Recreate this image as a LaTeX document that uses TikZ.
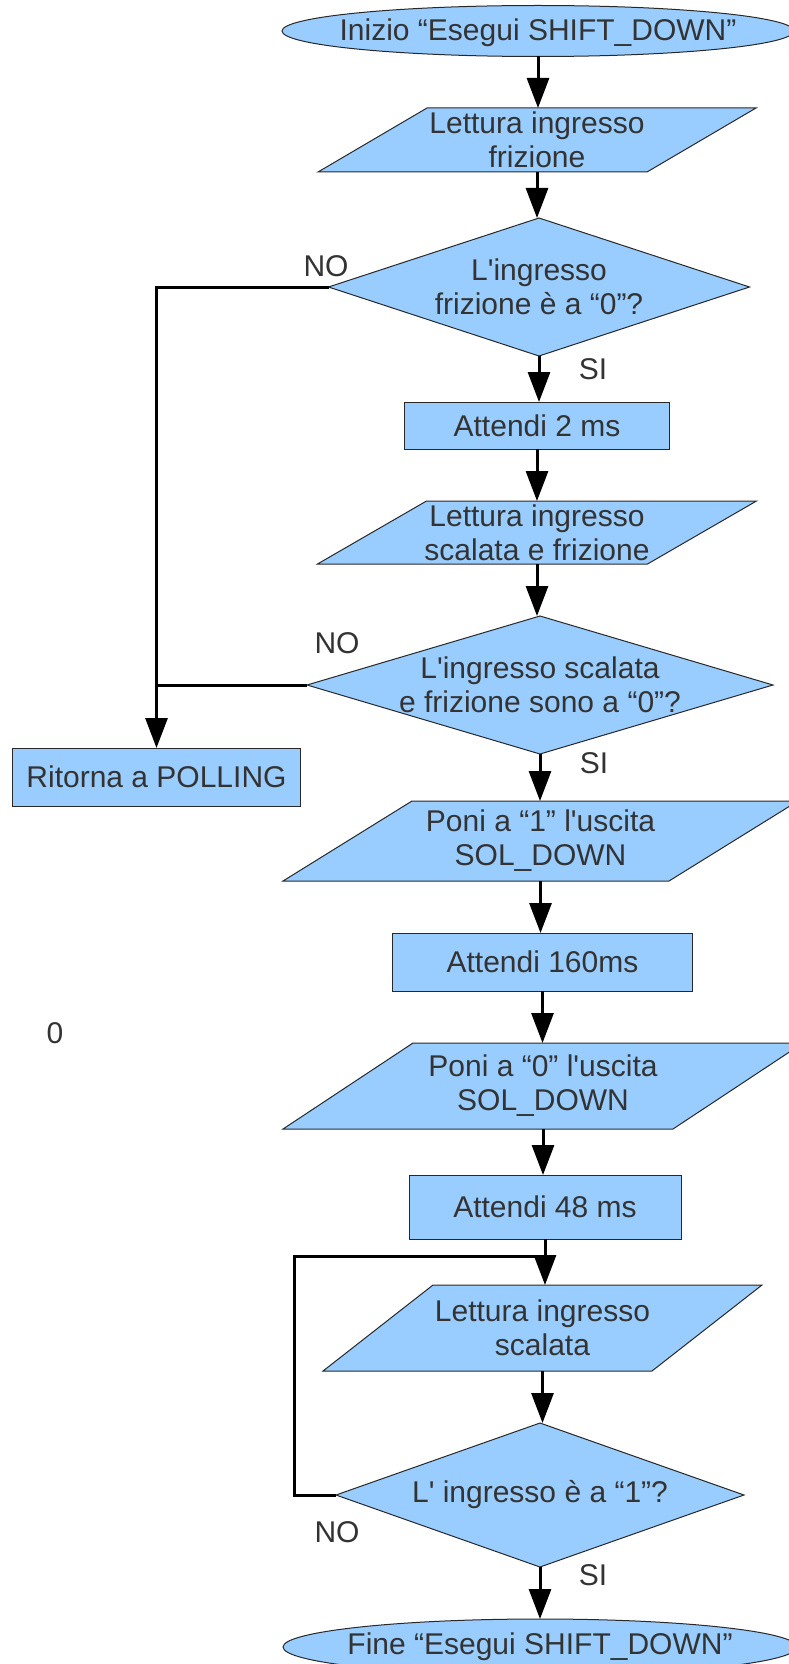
\documentclass[tikz,border=0pt]{standalone}
\usepackage{fontspec}
\setmainfont{Liberation Sans}
\usetikzlibrary{arrows.meta,backgrounds}
\definecolor{boxblue}{RGB}{153,204,255}
\definecolor{txtc}{RGB}{51,51,51}
\definecolor{edgec}{RGB}{40,40,40}
\newcommand\drawpara[2]{\path[shapefill] ([xshift=-#2]#1.south west) -- ([xshift=-#2]#1.south east) -- ([xshift=#2]#1.north east) -- ([xshift=#2]#1.north west) -- cycle;}
\newcommand\drawdiam[1]{\path[shapefill] (#1.north) -- (#1.east) -- (#1.south) -- (#1.west) -- cycle;}
\newcommand\apo{\textquotesingle}
\tikzset{
  txt/.style={text=txtc, align=center, inner sep=0pt, outer sep=0pt, rectangle,
    font=\fontsize{30}{34}\selectfont},
  shapefill/.style={fill=boxblue, draw=edgec, line width=1pt},
  rbox/.style={txt, shapefill},
  lbl/.style={text=txtc, inner sep=0pt, font=\fontsize{30}{34}\selectfont},
  flow/.style={draw=black, line width=3pt, -{Triangle[width=22pt,length=30pt]}},
  conn/.style={draw=black, line width=3pt},
}
\begin{document}
\begin{tikzpicture}[x=1pt,y=-1pt]
\useasboundingbox (0,0) rectangle (789,1664);
% nodes
\node[txt, minimum width=512, minimum height=47] (start) at (538,33) {Inizio “Esegui SHIFT\_DOWN”};
\node[txt, minimum width=329, minimum height=64] (p1) at (537,140) {Lettura ingresso\\frizione};
\node[txt, minimum width=421, minimum height=138] (d1) at (539,287) {L\apo ingresso\\frizione è a “0”?};
\node[rbox, minimum width=265, minimum height=47] (a2) at (537,425.5) {Attendi 2 ms};
\node[txt, minimum width=330, minimum height=63] (p2) at (537,532.5) {Lettura ingresso\\scalata e frizione};
\node[txt, minimum width=466, minimum height=138] (d2) at (540,685) {L\apo ingresso scalata\\e frizione sono a “0”?};
\node[rbox, minimum width=288, minimum height=58] (ret) at (156.5,777) {Ritorna a POLLING};
\node[txt, minimum width=386, minimum height=80] (p3) at (540.5,841) {Poni a “1” l\apo uscita\\SOL\_DOWN};
\node[rbox, minimum width=300, minimum height=58] (a160) at (542.5,962) {Attendi 160ms};
\node[txt, minimum width=390, minimum height=86] (p4) at (543,1086) {Poni a “0” l\apo uscita\\SOL\_DOWN};
\node[rbox, minimum width=272, minimum height=64] (a48) at (545,1207) {Attendi 48 ms};
\node[txt, minimum width=329, minimum height=86] (p5) at (542.5,1328) {Lettura ingresso\\scalata};
\node[txt, minimum width=408, minimum height=144] (d3) at (540,1495) {L\apo{} ingresso è a “1”?};
\node[txt, minimum width=514, minimum height=56] (fine) at (540,1647) {Fine “Esegui SHIFT\_DOWN”};
% shapes behind text
\begin{scope}[on background layer]
  \path[shapefill] ([yshift=2pt]start.center) ellipse [x radius=256, y radius=25.5];
  \path[shapefill] (fine.center) ellipse [x radius=257, y radius=28];
  \drawpara{p1}{54.5}
  \drawpara{p2}{54.5}
  \drawpara{p3}{64.5}
  \drawpara{p4}{65}
  \drawpara{p5}{55}
  \drawdiam{d1}
  \drawdiam{d2}
  \drawdiam{d3}
\end{scope}
% labels
\node[lbl] (no1) at (326,266) {NO};
\node[lbl] (no2) at (337,643) {NO};
\node[lbl] (no3) at (337,1532) {NO};
\node[lbl] (si1) at (593,369) {SI};
\node[lbl] (si2) at (594,763) {SI};
\node[lbl] (si3) at (593,1575) {SI};
\node[lbl] (zero) at (55,1033) {0};
% connectors
\draw[flow] (start.south) -- (start.south |- p1.north);
\draw[flow] (p1.south) -- (p1.south |- d1.north);
\draw[flow] (d1.south) -- (d1.south |- a2.north);
\draw[flow] (a2.south) -- (a2.south |- p2.north);
\draw[flow] (p2.south) -- (p2.south |- d2.north);
\draw[flow] (d2.south) -- (d2.south |- p3.north);
\draw[flow] (p3.south) -- (p3.south |- a160.north);
\draw[flow] (a160.south) -- (a160.south |- p4.north);
\draw[flow] (p4.south) -- (p4.south |- a48.north);
\draw[flow] (a48.south) -- (a48.south |- p5.north);
\draw[flow] (p5.south) -- (p5.south |- d3.north);
\draw[flow] (d3.south) -- (d3.south |- fine.north);
\draw[flow] (d1.west) -| (ret.north);
\draw[conn] (d2.west) -- (d2.west -| ret.north);
\coordinate (loopc) at (294,1256);
\draw[conn] (d3.west) -| (loopc) -- (loopc -| p5.north);
\end{tikzpicture}
\end{document}
